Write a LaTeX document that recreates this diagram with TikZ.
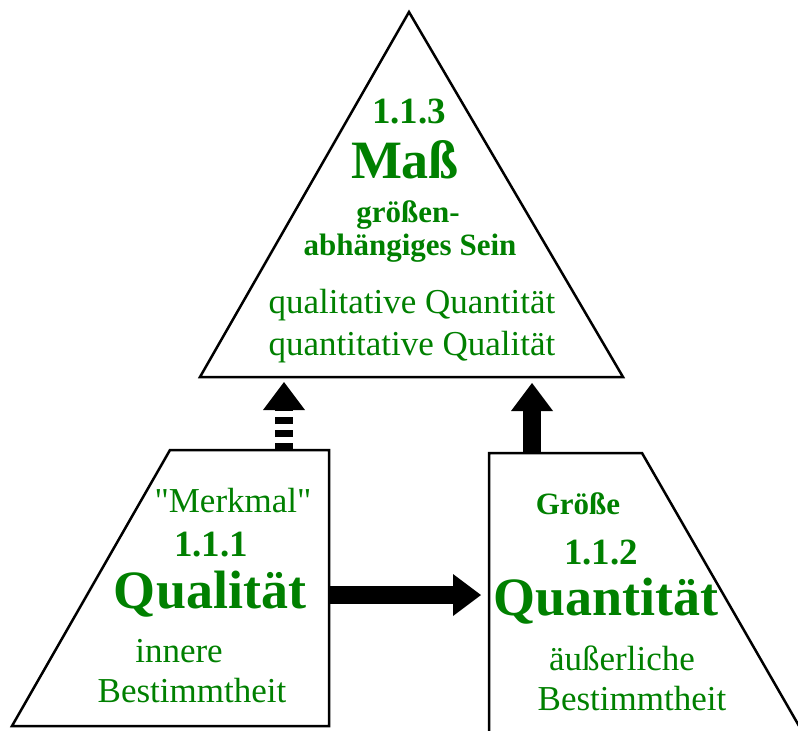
\documentclass[tikz,border=0pt]{standalone}
\usepackage{fontspec}
\setmainfont{Liberation Serif}
\usepackage{tikz}
\usetikzlibrary{arrows.meta}
\definecolor{hegelgreen}{RGB}{0,128,0}
\tikzstyle{outline} = [line width=2.5pt, line join=miter]
\tikzstyle{block_arrow} = [line width=18pt, -{Triangle[width=42pt 0 0, length=28pt 0 0, line width=0pt 0 0]}]
\tikzstyle{striped_arrow} = [block_arrow, dash pattern=on 7pt off 6pt]
\tikzstyle{txt} = [text=hegelgreen, inner sep=0pt, anchor=base]
\tikzstyle{txt_plain} = [txt, font=\fontsize{35}{40}\selectfont]
\tikzstyle{txt_small} = [txt, font=\fontsize{31}{36}\selectfont\bfseries]
\tikzstyle{txt_num} = [txt, font=\fontsize{37}{44}\selectfont\bfseries]
\tikzstyle{txt_title} = [txt, font=\fontsize{54}{60}\selectfont\bfseries]

\begin{document}
\begin{tikzpicture}[x=1pt, y=-1pt]
        \clip (0,0) rectangle (798,731);

        % Mass (triangle)
        \coordinate (mass_apex) at (409,12);
        \coordinate (mass_right) at (623,377);
        \coordinate (mass_left) at (200,377);
        \draw [outline] (mass_apex) -- (mass_right) -- (mass_left) -- cycle;

        % Qualitaet (left block)
        \coordinate (qual_bl) at (12,726);
        \coordinate (qual_tl) at (170,450);
        \coordinate (qual_tr) at (329,450);
        \coordinate (qual_br) at (329,726);
        \draw [outline] (qual_bl) -- (qual_tl) -- (qual_tr) -- (qual_br) -- cycle;

        % Quantitaet (right block, runs off the page)
        \coordinate (quan_bl) at (489,745);
        \coordinate (quan_tl) at (489,453);
        \coordinate (quan_tr) at (642,453);
        \coordinate (quan_br) at (810,745);
        \draw [outline] (quan_bl) -- (quan_tl) -- (quan_tr) -- (quan_br);

        \node (mass_num) [txt_num] at (409,123) {1.1.3};
        \node (mass_title) [txt_title] at (405,178) {Maß};
        \node (mass_sub1) [txt_small] at (408,222) {größen-};
        \node (mass_sub2) [txt_small] at (410,255) {abhängiges Sein};
        \node (mass_line1) [txt_plain] at (412,313) {qualitative Quantität};
        \node (mass_line2) [txt_plain] at (412,355) {quantitative Qualität};

        \node (qual_tag) [txt_plain] at (233,512) {\textquotedbl Merkmal\textquotedbl};
        \node (qual_num) [txt_num] at (211,556) {1.1.1};
        \node (qual_title) [txt_title] at (210,608) {Qualität};
        \node (qual_sub1) [txt_plain] at (179,662) {innere};
        \node (qual_sub2) [txt_plain] at (192,702) {Bestimmtheit};

        \node (quan_tag) [txt_small] at (578,514) {Größe};
        \node (quan_num) [txt_num] at (601,564) {1.1.2};
        \node (quan_title) [txt_title] at (606,615) {Quantität};
        \node (quan_sub1) [txt_plain] at (622,670) {äußerliche};
        \node (quan_sub2) [txt_plain] at (632,710) {Bestimmtheit};

        \coordinate (qual_up) at (284,450);
        \coordinate (quan_up) at (532,453);
        \coordinate (qual_out) at (329,595);
        \draw [striped_arrow, shorten >=5pt] (qual_up) -- (qual_up |- mass_left);
        \draw [block_arrow, shorten >=6pt] (quan_up) -- (quan_up |- mass_left);
        \draw [block_arrow, shorten >=8pt] (qual_out) -- (qual_out -| quan_tl);

    \end{tikzpicture}
\end{document}
